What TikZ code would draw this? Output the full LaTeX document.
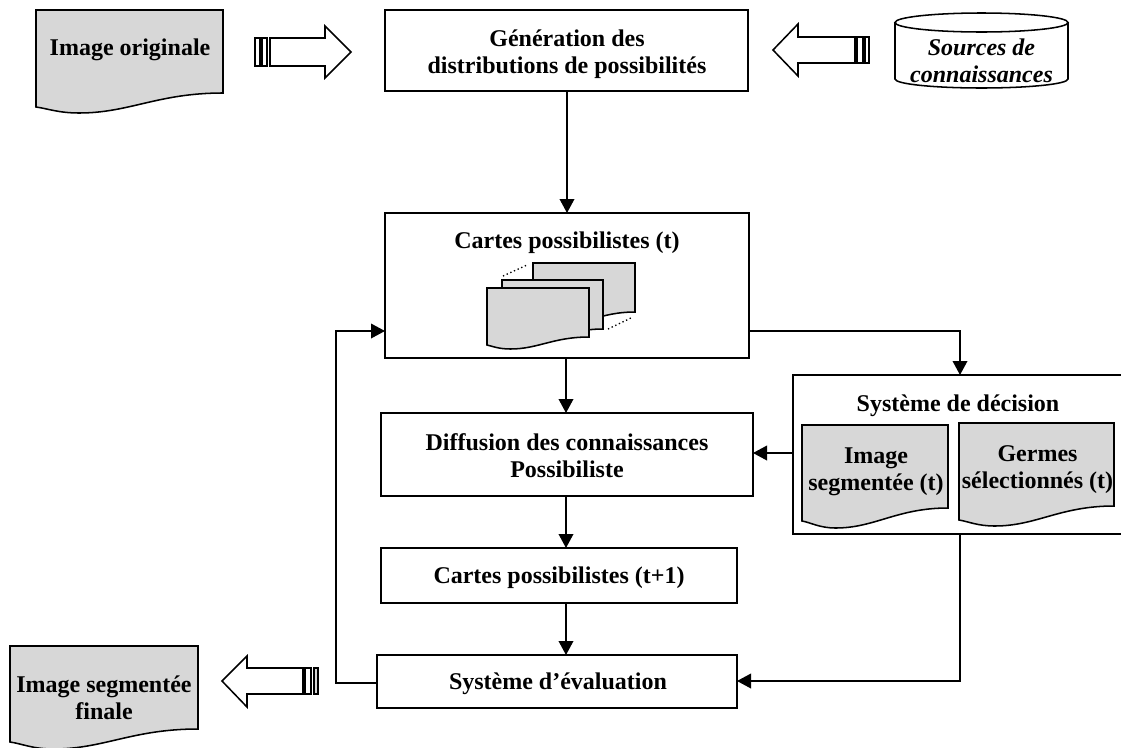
\documentclass[tikz,border=0pt]{standalone}
\usepackage{fontspec}
\setmainfont{Liberation Serif}
\usetikzlibrary{arrows.meta,calc}
\definecolor{sheetgray}{RGB}{215,215,215}
\tikzset{
  x=0.75pt,y=-0.75pt,
  ln/.style={line width=1.15pt,line join=miter},
  boxnode/.style={draw,ln,anchor=north west,inner sep=0pt,outer sep=0pt},
  lbl/.style={font=\fontsize{18}{20.4}\selectfont\bfseries,align=center,inner sep=0pt},
  conn/.style={line width=1.1pt,-{Triangle[length=10.5pt,width=11pt]}},
  sheet/.style={draw,ln,fill=sheetgray},
  fat/.style={draw,ln,fill=white},
}
% x1 y1 x2 yright yleft ylow
\newcommand{\docsheet}[6]{%
  \pgfmathsetmacro{\dw}{#3-#1}%
  \pgfmathsetmacro{\ca}{#3-0.35*\dw}%
  \pgfmathsetmacro{\cb}{#1+0.50*\dw}%
  \pgfmathsetmacro{\lx}{#1+0.23*\dw}%
  \pgfmathsetmacro{\cc}{#1+0.12*\dw}%
  \pgfmathsetmacro{\cd}{#1+0.06*\dw}%
  \path[sheet] (#1,#2) -- (#3,#2) -- (#3,#4)
    .. controls (\ca,#4) and (\cb,#6) .. (\lx,#6)
    .. controls (\cc,#6) and (\cd,#5+1.5) .. (#1,#5) -- cycle;
}
\begin{document}
\begin{tikzpicture}
\useasboundingbox (0,0) rectangle (1121,747);
% process boxes
\node[boxnode,minimum width=363*0.75pt,minimum height=81*0.75pt] (gen) at (385,10) {};
\node[boxnode,minimum width=364*0.75pt,minimum height=145*0.75pt] (cartes) at (385,213) {};
\node[boxnode,minimum width=372*0.75pt,minimum height=83*0.75pt] (diff) at (381,413) {};
\node[boxnode,minimum width=356*0.75pt,minimum height=55*0.75pt] (cartesb) at (381,548) {};
\node[boxnode,minimum width=360*0.75pt,minimum height=53*0.75pt] (eval) at (377,655) {};
\node[lbl] (gentxt) at (567,54) {Génération des\\distributions de possibilités};
\node[lbl] (cartestxt) at (567,243) {Cartes possibilistes (t)};
\node[lbl] (difftxt) at (567,456) {Diffusion des connaissances\\Possibiliste};
\node[lbl] (cartesbtxt) at (559,578) {Cartes possibilistes (t+1)};
\node[lbl] (evaltxt) at (558,684) {Système d’évaluation};
% documents
\docsheet{36}{10}{223}{93}{107}{113}
\node[lbl] (orig) at (130,50) {Image originale};
\docsheet{10}{646}{198}{729}{742}{749}
\node[lbl] (final) at (104,698) {Image segmentée\\finale};
% cylinder
\path[draw,ln,fill=white] (895,22) -- (895,79) arc[start angle=180,end angle=0,x radius=86.5,y radius=9] -- (1068,22);
\path[draw,ln,fill=white] (981.5,22.5) ellipse[x radius=86.5,y radius=9.5];
\node[lbl,font=\fontsize{18}{20.4}\selectfont\bfseries\itshape] (src) at (981.5,61) {Sources de\\connaissances};
% block arrows
\path[fat] (270,38) -- (325,38) -- (325,26) -- (351,52) -- (325,78) -- (325,66) -- (270,66) -- cycle;
\path[fat] (255,38) rectangle (260,66);
\path[fat] (262,38) rectangle (267,66);
\path[fat] (855,37) -- (798,37) -- (798,24) -- (773,50) -- (798,76) -- (798,63) -- (855,63) -- cycle;
\path[fat] (857,37) rectangle (863,63);
\path[fat] (865,37) rectangle (869,63);
\path[fat] (303,668) -- (247,668) -- (247,656) -- (222,681) -- (247,707) -- (247,694) -- (303,694) -- cycle;
\path[fat] (305,668) rectangle (311,694);
\path[fat,fill=sheetgray] (314,668) rectangle (318,694);
% stack of sheets
\docsheet{533}{263}{635}{312}{322}{326}
\docsheet{502}{280}{603}{329}{339}{343}
\docsheet{487}{288}{589}{337}{345}{349}
\draw[line width=1pt,dotted] (503,276) -- (527,265);
\draw[line width=1pt,dotted] (608,329) -- (633,317);
% decision system
\coordinate (sysnw) at (793,375);
\coordinate (sysne) at (1121,375);
\coordinate (syssw) at (793,534);
\coordinate (sysse) at (1121,534);
\draw[ln] (sysne) -- (sysnw) -- (syssw) -- (sysse);
\node[lbl] (systxt) at (958,406) {Système de décision};
\docsheet{802}{425}{948}{508}{521}{528}
\docsheet{959}{423}{1114}{506}{520}{526}
\node[lbl] (imgt) at (876,471.5) {Image\\segmentée (t)};
\node[lbl] (germes) at (1037.5,469.5) {Germes\\sélectionnés (t)};
\coordinate (systop) at (960,375);
\coordinate (sysbot) at (960,534);
\coordinate (sysleft) at (793,453);
% connectors
\draw[conn] (gen.south -| 567,0) -- (cartes.north -| 567,0);
\draw[conn] (cartes.south -| 566,0) -- (diff.north -| 566,0);
\draw[conn] (diff.south -| 566,0) -- (cartesb.north -| 566,0);
\draw[conn] (cartesb.south -| 566,0) -- (eval.north -| 566,0);
\draw[conn] (cartes.east |- 0,331) -| (systop);
\draw[conn] (sysleft) -- (diff.east |- sysleft);
\draw[conn] (sysbot) |- (eval.east |- 0,681);
\draw[conn] (eval.west |- 0,683) -| (336,331) -- (cartes.west |- 0,331);
\end{tikzpicture}
\end{document}
